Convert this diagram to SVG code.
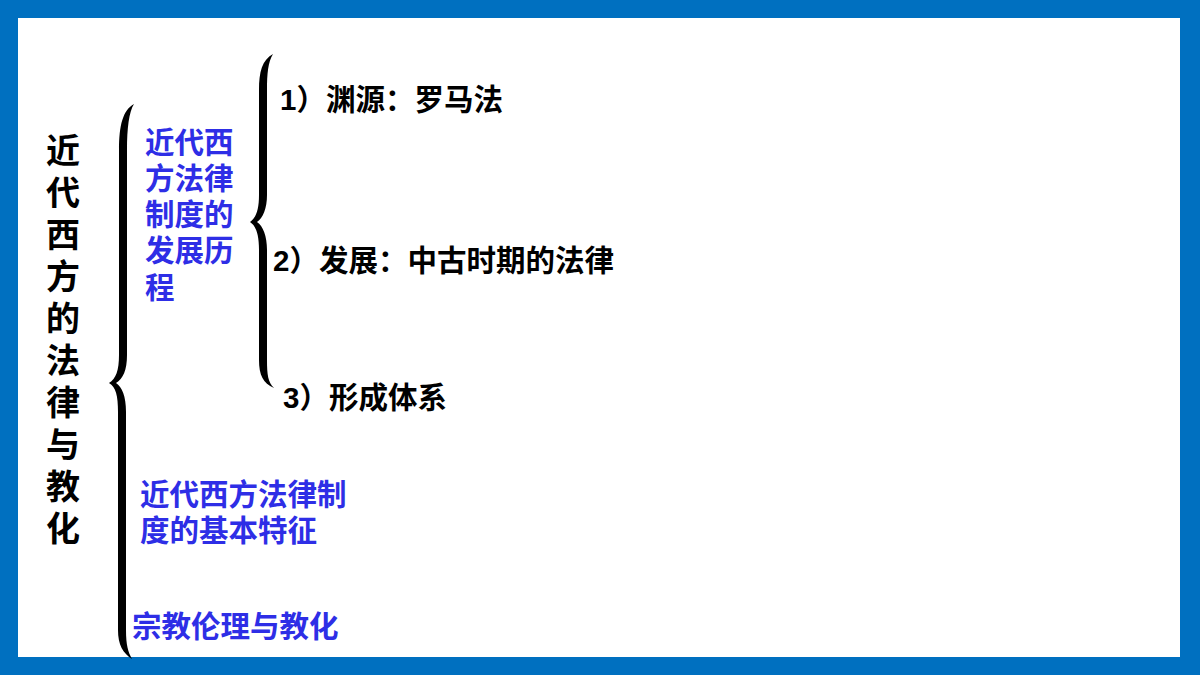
<svg xmlns="http://www.w3.org/2000/svg" width="1200" height="675" viewBox="0 0 1200 675">
<style>
  .t { font-family: "Liberation Sans", "Noto Sans CJK SC", sans-serif; font-weight: bold; }
  .title { font-size: 34px; fill: #000; text-anchor: middle; }
  .blue { font-size: 29.5px; fill: #2E2EE6; }
  .item { font-size: 29.5px; fill: #000; }
  .brace { fill: #000; stroke: none; }
</style>
<rect x="0" y="0" width="1200" height="675" fill="#0070C0"/>
<rect x="18" y="18" width="1162" height="639" fill="#FFFFFF"/>

<g id="title">
  <text class="t title" x="63" y="163">近<tspan x="63" dy="42">代</tspan><tspan x="63" dy="42">西</tspan><tspan x="63" dy="42">方</tspan><tspan x="63" dy="42">的</tspan><tspan x="63" dy="42">法</tspan><tspan x="63" dy="42">律</tspan><tspan x="63" dy="42">与</tspan><tspan x="63" dy="42">教</tspan><tspan x="63" dy="42">化</tspan></text>
</g>

<g id="connectors">
  <path class="brace" d="M134,104 C123,110 119,125 119,150 L119,355 C119,370 116,379 109,383 C116,387 118,396 118,412 L118,630 C118,645 123,653 132,659 C128,652 126,645 126,630 L126,412 C126,396 122,387 116,383 C123,379 127,370 127,355 L127,150 C127,128 129,112 134,104 Z"/>
  <path class="brace" d="M273,54 C262,60 259,72 259,90 L259,195 C259,210 256,218 250,222 C256,226 259,234 259,250 L259,360 C259,375 263,383 274,388 C268,382 267,375 267,360 L267,250 C267,236 263,226 257,222 C263,218 267,208 267,195 L267,90 C267,74 268,62 273,54 Z"/>
</g>

<g id="node-history">
  <text class="t blue" x="145" y="153">近代西<tspan x="145" dy="36">方法律</tspan><tspan x="145" dy="36">制度的</tspan><tspan x="145" dy="36">发展历</tspan><tspan x="145" dy="37">程</tspan></text>
</g>

<g id="node-item1">
  <text class="t item" x="280" y="110">1）渊源：罗马法</text>
</g>
<g id="node-item2">
  <text class="t item" x="273" y="271">2）发展：中古时期的法律</text>
</g>
<g id="node-item3">
  <text class="t item" x="283" y="408">3）形成体系</text>
</g>

<g id="node-features">
  <text class="t blue" x="140" y="505">近代西方法律制<tspan x="140" dy="36">度的基本特征</tspan></text>
</g>

<g id="node-religion">
  <text class="t blue" x="132" y="637">宗教伦理与教化</text>
</g>
</svg>
